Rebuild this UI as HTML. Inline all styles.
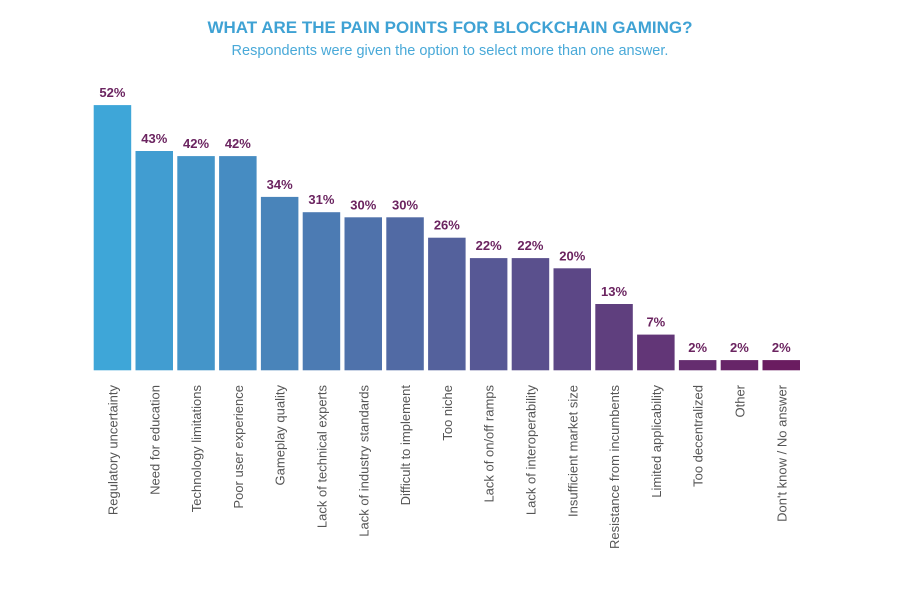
<!DOCTYPE html>
<html><head><meta charset="utf-8"><style>
body{margin:0;background:#fff;width:900px;height:604px;overflow:hidden;font-family:"Liberation Sans",sans-serif}
</style></head><body>
<svg width="900" height="604">
<text x="450" y="33" text-anchor="middle" font-size="17" font-weight="bold" fill="#3fa2d4">WHAT ARE THE PAIN POINTS FOR BLOCKCHAIN GAMING?</text>
<text x="450" y="55" text-anchor="middle" font-size="14.5" fill="#49a9d8">Respondents were given the option to select more than one answer.</text>
<g id="bars"></g>
</svg>
<script>
const categories=["Regulatory uncertainty","Need for education","Technology limitations","Poor user experience","Gameplay quality","Lack of technical experts","Lack of industry standards","Difficult to implement","Too niche","Lack of on/off ramps","Lack of interoperability","Insufficient market size","Resistance from incumbents","Limited applicability","Too decentralized","Other","Don't know / No answer"];
const values=[52,43,42,42,34,31,30,30,26,22,22,20,13,7,2,2,2];
const NS="http://www.w3.org/2000/svg";
const g=document.getElementById('bars');
const x0=93.7,step=41.8,bw=37.5,base=370.3,k=5.1;
const xs=i=>x0+i*step;
const ys=v=>base-v*k;
function lerp(a,b,t){return Math.round(a+(b-a)*t);}
categories.forEach((c,i)=>{
  const t=i/(categories.length-1);
  const col=`rgb(${lerp(62,106,t)},${lerp(166,28,t)},${lerp(216,96,t)})`;
  const r=document.createElementNS(NS,'rect');
  
  
  r.setAttribute('x',xs(i));r.setAttribute('y',ys(values[i]));
  r.setAttribute('width',bw);r.setAttribute('height',base-ys(values[i]));
  r.setAttribute('fill',col);g.appendChild(r);
  const v=document.createElementNS(NS,'text');
  
  
  v.setAttribute('x',xs(i)+bw/2);v.setAttribute('y',ys(values[i])-8);
  v.setAttribute('text-anchor','middle');v.setAttribute('font-size','13');
  v.setAttribute('font-weight','bold');v.setAttribute('fill','#6b2460');
  v.textContent=values[i]+'%';g.appendChild(v);
  const l=document.createElementNS(NS,'text');
  
  
  const lx=xs(i)+bw/2+5,ly=385;
  l.setAttribute('transform',`translate(${lx},${ly}) rotate(-90)`);
  l.setAttribute('text-anchor','end');l.setAttribute('font-size','13');
  l.setAttribute('fill','#555');l.textContent=c;g.appendChild(l);
});
</script>
</body></html>
